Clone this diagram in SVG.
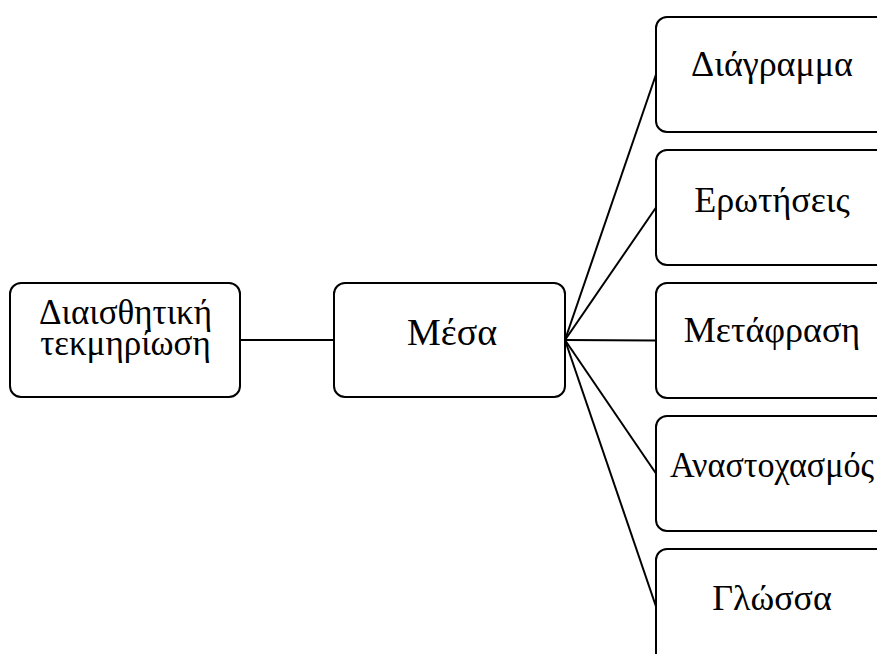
<svg xmlns="http://www.w3.org/2000/svg" width="877" height="654" viewBox="0 0 877 654">
<style>
.box{fill:#fff;stroke:#000;stroke-width:2}
.lbl{font-family:"Liberation Serif","Times New Roman",serif;font-size:36px;fill:#000;text-anchor:middle}
.lbl1{font-size:35px}
.conn line{stroke:#000;stroke-width:2}
</style>
<rect width="877" height="654" fill="#fff"/>
<g id="connectors" class="conn">
<line x1="240" y1="340" x2="334" y2="340"/>
<line x1="565" y1="340" x2="656" y2="74.5"/>
<line x1="565" y1="340" x2="656" y2="207.5"/>
<line x1="565" y1="340" x2="656" y2="340.5"/>
<line x1="565" y1="340" x2="656" y2="473.5"/>
<line x1="565" y1="340" x2="656" y2="606.5"/>
</g>
<g id="n-aisthitiki">
<rect class="box" x="10" y="283" width="230" height="114" rx="11"/>
<text class="lbl lbl1" x="125.5" y="324">Διαισθητική</text>
<text class="lbl lbl1" x="125.5" y="355">τεκμηρίωση</text>
</g>
<g id="n-mesa">
<rect class="box" x="334" y="283" width="231" height="114" rx="11"/>
<text class="lbl" x="452" y="345" style="font-size:38px">Μέσα</text>
</g>
<g id="n-diagramma">
<rect class="box" x="656" y="17" width="240" height="115" rx="11"/>
<text class="lbl" x="772" y="76">Διάγραμμα</text>
</g>
<g id="n-erotiseis">
<rect class="box" x="656" y="150" width="240" height="115" rx="11"/>
<text class="lbl" x="772" y="212">Ερωτήσεις</text>
</g>
<g id="n-metafrasi">
<rect class="box" x="656" y="283" width="240" height="115" rx="11"/>
<text class="lbl" x="772" y="342">Μετάφραση</text>
</g>
<g id="n-anastoxasmos">
<rect class="box" x="656" y="416" width="240" height="115" rx="11"/>
<text class="lbl" x="670" y="477" style="text-anchor:start" textLength="204" lengthAdjust="spacingAndGlyphs">Αναστοχασμός</text>
</g>
<g id="n-glossa">
<rect class="box" x="656" y="549" width="240" height="115" rx="11"/>
<text class="lbl" x="772" y="610">Γλώσσα</text>
</g>
</svg>
